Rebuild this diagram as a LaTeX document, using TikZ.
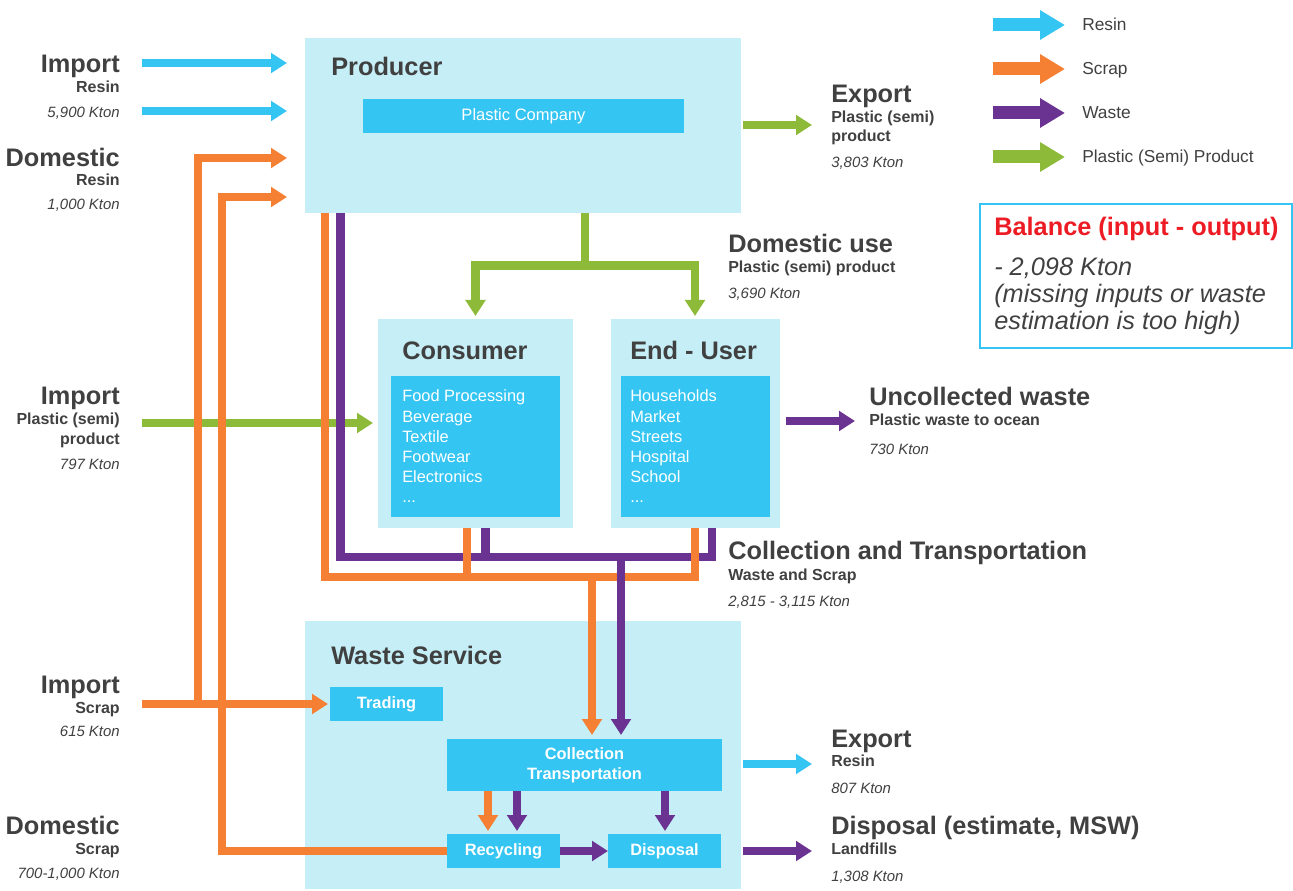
\documentclass[tikz,border=0pt]{standalone}
\usepackage{fontspec}
\setmainfont{Liberation Sans}
\usetikzlibrary{arrows.meta}
\definecolor{cyanA}{HTML}{35C5F3}
\definecolor{paleB}{HTML}{C5EEF7}
\definecolor{orangeA}{HTML}{F57F32}
\definecolor{purpleA}{HTML}{6A3291}
\definecolor{greenA}{HTML}{8DBB39}
\definecolor{txtG}{HTML}{404040}
\definecolor{redA}{HTML}{ED1C24}
\newcommand\pbox[7]{\node[#1, anchor=north west, minimum width={(#4-#2)*0.75pt}, minimum height={(#5-#3)*0.75pt}] (#6) at (#2,#3) {#7};}
\tikzset{
  pane/.style={fill=paleB, draw=none, inner sep=0pt, outer sep=0pt},
  inbox/.style={fill=cyanA, draw=none, inner sep=0pt, outer sep=0pt, text=white},
  hdt/.style={text=txtG, font=\fontsize{19}{22}\selectfont\bfseries, inner sep=0pt, yshift=-0.75pt},
  subt/.style={text=txtG, font=\fontsize{12}{14}\selectfont\bfseries, inner sep=0pt, yshift=-0.75pt},
  valt/.style={text=txtG, font=\fontsize{11.2}{13}\selectfont\itshape, inner sep=0pt, yshift=-0.75pt},
  listt/.style={text=white, font=\fontsize{12.3}{15}\selectfont, inner sep=0pt, anchor=base west},
  lblt/.style={font=\fontsize{12.3}{15}\selectfont\bfseries},
  pipe/.style={line width=6.6pt},
  flow/.style={line width=6.6pt, -{Triangle[length=12pt,width=14.5pt]}},
  legflow/.style={line width=9.75pt, -{Triangle[length=18.75pt,width=21pt]}},
  legt/.style={text=txtG, font=\fontsize{13}{15}\selectfont, inner sep=0pt, anchor=base west},
  balt/.style={text=txtG, font=\fontsize{19}{22}\selectfont\itshape, inner sep=0pt, anchor=base west},
}
\begin{document}
\begin{tikzpicture}[x=0.75pt,y=-0.75pt]
\useasboundingbox (0,0) rectangle (1293,891);

% ---------- boxes ----------
\pbox{pane}{305}{38}{741}{213}{prod}{}
\pbox{inbox,font=\fontsize{12.4}{15}\selectfont}{363}{99}{684}{133}{pc}{Plastic Company}
\pbox{pane}{378}{319}{573}{528}{cons}{}
\pbox{inbox}{391}{376}{560}{517}{consin}{}
\pbox{pane}{611}{319}{780}{528}{endu}{}
\pbox{inbox}{621}{376}{770}{517}{enduin}{}
\pbox{pane}{305}{621}{741}{889}{waste}{}
\pbox{inbox,lblt}{330}{687}{443}{721}{trad}{Trading}
\pbox{inbox,lblt,align=center}{447}{739}{722}{791}{coll}{Collection\\Transportation}
\pbox{inbox,lblt}{447}{834}{560}{868}{recy}{Recycling}
\pbox{inbox,lblt}{608}{834}{721}{868}{disp}{Disposal}
\pbox{draw=cyanA,line width=1.5pt,inner sep=0pt}{979}{203}{1291}{347}{bal}{}

% ---------- titles ----------
\node[hdt, anchor=base west] (prodT) at (331,75) {Producer};
\node[hdt, anchor=base west] (consT) at (402,358) {Consumer};
\node[hdt, anchor=base west] (enduT) at (630,358) {End - User};
\node[hdt, anchor=base west] (wasteT) at (331,663) {Waste Service};

\node[listt] (cl0) at (402,402) {Food Processing};
\node[listt] (cl1) at (402,422) {Beverage};
\node[listt] (cl2) at (402,442) {Textile};
\node[listt] (cl3) at (402,462) {Footwear};
\node[listt] (cl4) at (402,482) {Electronics};
\node[listt] (cl5) at (402,502) {...};
\node[listt] (el0) at (630,402) {Households};
\node[listt] (el1) at (630,422) {Market};
\node[listt] (el2) at (630,442) {Streets};
\node[listt] (el3) at (630,462) {Hospital};
\node[listt] (el4) at (630,482) {School};
\node[listt] (el5) at (630,502) {...};

% ---------- left labels ----------
\node[hdt, anchor=base east] (l1a) at (120,72) {Import};
\node[subt, anchor=base east] (l1b) at (120,92) {Resin};
\node[valt, anchor=base east] (l1c) at (120,117) {5,900 Kton};
\node[hdt, anchor=base east] (l2a) at (120,166) {Domestic};
\node[subt, anchor=base east] (l2b) at (120,185) {Resin};
\node[valt, anchor=base east] (l2c) at (120,209) {1,000 Kton};
\node[hdt, anchor=base east] (l3a) at (120,403) {Import};
\node[subt, anchor=base east] (l3b) at (120,423) {Plastic (semi)};
\node[subt, anchor=base east] (l3c) at (120,443) {product};
\node[valt, anchor=base east] (l3d) at (120,468) {797 Kton};
\node[hdt, anchor=base east] (l4a) at (120,692) {Import};
\node[subt, anchor=base east] (l4b) at (120,712) {Scrap};
\node[valt, anchor=base east] (l4c) at (120,735) {615 Kton};
\node[hdt, anchor=base east] (l5a) at (120,833) {Domestic};
\node[subt, anchor=base east] (l5b) at (120,853) {Scrap};
\node[valt, anchor=base east] (l5c) at (120,877) {700-1,000 Kton};

% ---------- right labels ----------
\node[hdt, anchor=base west] (r1a) at (831,102) {Export};
\node[subt, anchor=base west] (r1b) at (831,122) {Plastic (semi)};
\node[subt, anchor=base west] (r1c) at (831,141) {product};
\node[valt, anchor=base west] (r1d) at (831,167) {3,803 Kton};
\node[hdt, anchor=base west] (r2a) at (728,252) {Domestic use};
\node[subt, anchor=base west] (r2b) at (728,272) {Plastic (semi) product};
\node[valt, anchor=base west] (r2c) at (728,298) {3,690 Kton};
\node[hdt, anchor=base west] (r3a) at (869,405) {Uncollected waste};
\node[subt, anchor=base west] (r3b) at (869,425) {Plastic waste to ocean};
\node[valt, anchor=base west] (r3c) at (869,454) {730 Kton};
\node[hdt, anchor=base west] (r4a) at (728,558) {Collection and Transportation};
\node[subt, anchor=base west] (r4b) at (728,579) {Waste and Scrap};
\node[valt, anchor=base west] (r4c) at (728,605) {2,815 - 3,115 Kton};
\node[hdt, anchor=base west] (r5a) at (831,746) {Export};
\node[subt, anchor=base west] (r5b) at (831,765) {Resin};
\node[valt, anchor=base west] (r5c) at (831,792) {807 Kton};
\node[hdt, anchor=base west] (r6a) at (831,833) {Disposal (estimate, MSW)};
\node[subt, anchor=base west] (r6b) at (831,853) {Landfills};
\node[valt, anchor=base west] (r6c) at (831,880) {1,308 Kton};

% ---------- legend ----------
\foreach \yy/\cc/\tt [count=\i] in {25/cyanA/Resin, 69/orangeA/Scrap, 113/purpleA/Waste, 157/greenA/Plastic (Semi) Product}{
  \coordinate (lg\i s) at (993,\yy);
  \coordinate (lg\i e) at (1065,\yy);
  \draw[legflow,\cc] (lg\i s) -- (lg\i e);
  \node[legt] (lgt\i) at (1082,\yy+6) {\tt};
}

% ---------- balance ----------
\node[text=redA, font=\fontsize{19}{22}\selectfont\bfseries, inner sep=0pt, anchor=base west] (balT) at (994,236) {Balance (input - output)};
\node[balt] (bal1) at (994,276) {- 2,098 Kton};
\node[balt] (bal2) at (994,303) {(missing inputs or waste};
\node[balt] (bal3) at (994,330) {estimation is too high)};

% ---------- free end points ----------
\coordinate (gIn) at (142,423);
\coordinate (cIn1) at (142,63);
\coordinate (cIn2) at (142,111);
\coordinate (oIn) at (142,704);
\coordinate (gOut) at (812,125);
\coordinate (cOut) at (812,764);
\coordinate (pOut1) at (855,421);
\coordinate (pOut2) at (812,851);
\coordinate (gJ) at (585,265.5);
\coordinate (pJ) at (712,557);
\coordinate (oJ) at (695,577);
\coordinate (oJ2) at (592,577);
\coordinate (pJ2) at (621,557);
\coordinate (oB1) at (198,704);
\coordinate (oB2) at (222,197);

% ---------- green ----------
\draw[flow,greenA,shorten >=3.75pt] (gIn) -- (cons.west |- gIn);
\draw[pipe,greenA] (prod.south -| gJ) -- (gJ);
\draw[flow,greenA,shorten >=2.25pt] (gJ) -| (cons.north -| 475.5,0);
\draw[flow,greenA,shorten >=2.25pt] (gJ) -| (endu.north -| 695,0);
\draw[flow,greenA,shorten <=1.5pt] (prod.east |- gOut) -- (gOut);

% ---------- cyan ----------
\draw[flow,cyanA,shorten >=13.5pt] (cIn1) -- (prod.west |- cIn1);
\draw[flow,cyanA,shorten >=13.5pt] (cIn2) -- (prod.west |- cIn2);
\draw[flow,cyanA,shorten <=1.5pt] (waste.east |- cOut) -- (cOut);

% ---------- purple outputs ----------
\draw[flow,purpleA,shorten <=4.5pt] (endu.east |- pOut1) -- (pOut1);
\draw[flow,purpleA,shorten <=1.5pt] (waste.east |- pOut2) -- (pOut2);

% ---------- collection network ----------
\draw[pipe,purpleA] (prod.south -| 340.5,0) |- (pJ) -- (endu.south -| pJ);
\draw[pipe,purpleA] (cons.south -| 485.5,0) -- (485.5,557);
\draw[pipe,orangeA] (prod.south -| 325,0) |- (oJ) -- (endu.south -| oJ);
\draw[pipe,orangeA] (cons.south -| 467,0) -- (467,577);
\draw[flow,orangeA,shorten >=3pt] (oJ2) -- (coll.north -| oJ2);
\draw[flow,purpleA,shorten >=3pt] (pJ2) -- (coll.north -| pJ2);

% ---------- inside waste service ----------
\draw[flow,orangeA,shorten >=2.25pt] (coll.south -| 488,0) -- (recy.north -| 488,0);
\draw[flow,purpleA,shorten >=2.25pt] (coll.south -| 517,0) -- (recy.north -| 517,0);
\draw[flow,purpleA,shorten >=2.25pt] (coll.south -| 665,0) -- (disp.north -| 665,0);
\draw[flow,purpleA] (recy.east |- 0,851) -- (disp.west |- 0,851);

% ---------- scrap lines on the left ----------
\draw[flow,orangeA,shorten >=1.5pt] (oIn) -- (trad.west |- oIn);
\draw[flow,orangeA,shorten >=13.5pt] (oB1) |- (prod.west |- 0,158);
\draw[flow,orangeA,shorten >=13.5pt] (recy.west |- 0,851) -| (oB2) -- (prod.west |- oB2);

\end{tikzpicture}
\end{document}
